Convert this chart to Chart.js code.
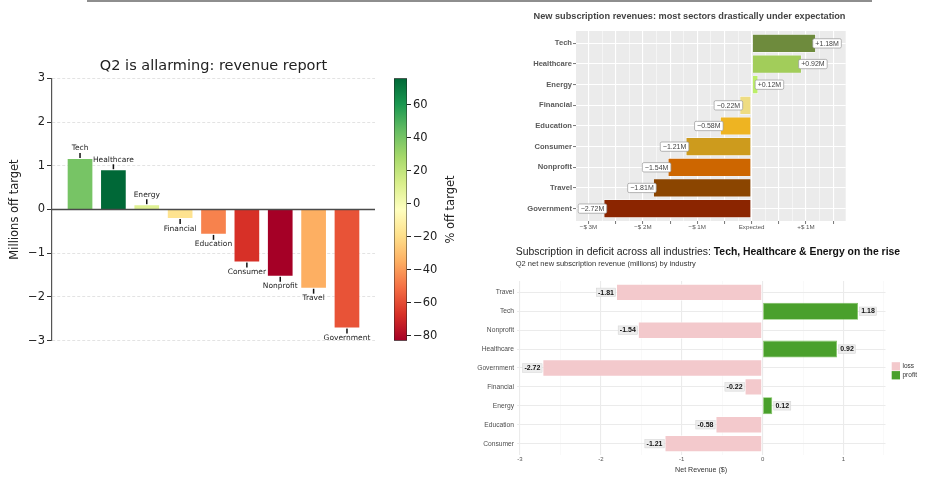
<!DOCTYPE html>
<html>
<head>
<meta charset="utf-8">
<script src="https://cdn.jsdelivr.net/npm/chart.js@4.4.1/dist/chart.umd.min.js"></script>
<style>
  html, body { margin: 0; padding: 0; background: #fff; width: 933px; height: 481px; overflow: hidden; }
  canvas { position: absolute; left: 0; top: 0; }
  #rule { position: absolute; left: 87px; top: 0; width: 785px; height: 2px; background: #8e8e8e; }
</style>
</head>
<body>
<div id="rule"></div>
<canvas id="bars" width="933" height="481"></canvas>
<canvas id="colorbar" width="933" height="481"></canvas>
<canvas id="expectation" width="933" height="481"></canvas>
<canvas id="net" width="933" height="481"></canvas>
<script>
// ---- data ----
const sectors = ['Tech', 'Healthcare', 'Energy', 'Financial', 'Education', 'Consumer', 'Nonprofit', 'Travel', 'Government'];
const revenueMillions = [1.18, 0.92, 0.12, -0.22, -0.58, -1.21, -1.54, -1.81, -2.72];
const pctOffTarget = [40, 76, 10, -18, -46, -67, -83, -35, -58];
const millionTicks = [-3, -2, -1, 0, 1, 2, 3];
const pctTicks = [-80, -60, -40, -20, 0, 20, 40, 60];
const sectorColors = ['#6E8B3D', '#A2CD5A', '#BCEE68', '#EEDC82', '#EEB422', '#CD9B1D', '#CD6600', '#8B4500', '#8B2500'];
const expectationTicks = [-3, -2, -1, 0, 1];
const expectationLabels = ['\u2212$ 3M', '\u2212$ 2M', '\u2212$ 1M', 'Expected', '+$ 1M'];
const netTicks = [-3, -2, -1, 0, 1];
const resultLabels = ['loss', 'profit'];
const resultColors = ['#F3C9CC', '#4AA02C'];

// ---- helpers ----
const W = 933, H = 481;
const SANS = '"Liberation Sans", Arial, sans-serif';
const DEJAVU = '"DejaVu Sans", sans-serif';
const minus = v => String(v).replace('-', '\u2212');

// layout padding that puts the plot area at a fixed spot, given fixed axis sizes
function padFor(area, leftW, bottomH, rightW = 0, topH = 0) {
  return { left: area.left - leftW, right: W - area.right - rightW, top: area.top - topH, bottom: H - area.bottom - bottomH };
}

const RDYLGN = ['#a50026', '#d73027', '#f46d43', '#fdae61', '#fee08b', '#ffffbf', '#d9ef8b', '#a6d96a', '#66bd63', '#1a9850', '#006837'];
const hexRgb = h => [1, 3, 5].map(i => parseInt(h.substr(i, 2), 16));
function rdylgn(t) {
  t = Math.max(0, Math.min(1, t));
  const p = t * 10, i = Math.min(9, Math.floor(p)), f = p - i;
  const a = hexRgb(RDYLGN[i]), b = hexRgb(RDYLGN[i + 1]);
  const c = a.map((v, k) => Math.round(v + (b[k] - v) * f));
  return `rgb(${c[0]},${c[1]},${c[2]})`;
}
const vmin = Math.min(...pctOffTarget), vmax = Math.max(...pctOffTarget);
const norm = v => (v - vmin) / (vmax - vmin);

const common = { responsive: false, animation: false, events: [] };
const noChrome = { legend: { display: false }, tooltip: { enabled: false }, title: { display: false } };

// ================= left: vertical bars coloured by % off target =================
const barsArea = { left: 52, right: 375, top: 78.3, bottom: 340.7 };
new Chart('bars', {
  type: 'bar',
  data: {
    datasets: [{
      data: sectors.map((s, i) => ({ x: i, y: revenueMillions[i] })),
      backgroundColor: pctOffTarget.map(p => rdylgn(norm(p))),
      borderColor: 'rgba(255,255,255,0.45)',
      borderWidth: 1,
      barPercentage: 0.8,
      categoryPercentage: 1
    }]
  },
  options: {
    ...common,
    layout: { padding: padFor(barsArea, 52, 0) },
    plugins: noChrome,
    scales: {
      x: { type: 'linear', min: -0.84, max: 8.84, offset: false, display: false },
      y: {
        type: 'linear', min: -3, max: 3,
        afterFit: s => { s.width = 52; },
        afterBuildTicks: s => { s.ticks = millionTicks.map(v => ({ value: v })); },
        ticks: { font: { family: DEJAVU, size: 11.5 }, color: '#222', padding: 2, callback: v => minus(v) },
        grid: { color: '#dcdcdc', lineWidth: 0.8, tickLength: 5, tickColor: '#333', tickWidth: 1 },
        border: { display: true, color: '#555', width: 1.2, dash: [3, 2] },
        title: { display: true, text: 'Millions off target', font: { family: DEJAVU, size: 11.5 }, color: '#222', padding: { top: 8 } }
      }
    }
  },
  plugins: [{
    id: 'barsDecor',
    beforeDatasetsDraw(chart) {
      const { ctx } = chart;
      const meta = chart.getDatasetMeta(0);
      ctx.save();
      ctx.font = `7.5px ${DEJAVU}`;
      ctx.fillStyle = '#222';
      ctx.strokeStyle = '#111';
      ctx.lineWidth = 1.5;
      ctx.textAlign = 'center';
      ctx.textBaseline = 'middle';
      meta.data.forEach((bar, i) => {
        const dir = revenueMillions[i] >= 0 ? -1 : 1;
        ctx.beginPath();
        ctx.moveTo(bar.x, bar.y);
        ctx.lineTo(bar.x, bar.y + dir * 5);
        ctx.stroke();
        ctx.fillText(sectors[i], bar.x, bar.y + dir * 9.5);
      });
      ctx.restore();
    },
    afterDatasetsDraw(chart) {
      const { ctx, chartArea: a, scales: { y } } = chart;
      const y0 = y.getPixelForValue(0);
      ctx.save();
      ctx.strokeStyle = '#4a4a4a';
      ctx.lineWidth = 1.4;
      ctx.beginPath();
      ctx.moveTo(a.left, y0);
      ctx.lineTo(a.right, y0);
      ctx.stroke();
      ctx.font = `14.5px ${DEJAVU}`;
      ctx.fillStyle = '#222';
      ctx.textAlign = 'center';
      ctx.textBaseline = 'middle';
      ctx.fillText('Q2 is allarming: revenue report', (a.left + a.right) / 2, 66.7);
      ctx.restore();
    }
  }]
});

// ================= colour bar for % off target =================
const cbArea = { left: 394, right: 407, top: 78.3, bottom: 340.7 };
new Chart('colorbar', {
  type: 'bar',
  data: {
    labels: ['% off target'],
    datasets: [{
      data: [[vmin, vmax]],
      backgroundColor: c => {
        const a = c.chart.chartArea;
        if (!a) return '#ffffbf';
        const g = c.chart.ctx.createLinearGradient(0, a.bottom, 0, a.top);
        RDYLGN.forEach((h, k) => g.addColorStop(k / 10, h));
        return g;
      },
      borderColor: '#222',
      borderWidth: 0.8,
      borderSkipped: false,
      barPercentage: 1,
      categoryPercentage: 1
    }]
  },
  options: {
    ...common,
    layout: { padding: padFor(cbArea, 0, 0, 60) },
    plugins: noChrome,
    scales: {
      x: { display: false },
      y: {
        position: 'right', min: vmin, max: vmax,
        afterFit: s => { s.width = 60; },
        afterBuildTicks: s => { s.ticks = pctTicks.map(v => ({ value: v })); },
        ticks: { font: { family: DEJAVU, size: 11.5 }, color: '#222', padding: 2, callback: v => minus(v) },
        grid: { drawOnChartArea: false, tickLength: 4, tickColor: '#222', tickWidth: 1 },
        border: { display: false }
      }
    }
  },
  plugins: [{
    id: 'cbLabel',
    afterDraw(chart) {
      const { ctx, chartArea: a } = chart;
      ctx.save();
      ctx.translate(451, (a.top + a.bottom) / 2);
      ctx.rotate(-Math.PI / 2);
      ctx.font = `11.5px ${DEJAVU}`;
      ctx.fillStyle = '#222';
      ctx.textAlign = 'center';
      ctx.textBaseline = 'middle';
      ctx.fillText('% off target', 0, 0);
      ctx.restore();
    }
  }]
});

// ================= top right: revenue vs expectation =================
const expArea = { left: 576, right: 845.7, top: 31, bottom: 221 };
const quarterSteps = Array.from({ length: 19 }, (_, k) => -3 + k * 0.25);
const isHalf = v => Math.abs(v * 2 - Math.round(v * 2)) < 1e-6;
new Chart('expectation', {
  type: 'bar',
  data: {
    datasets: [{
      data: sectors.map((s, i) => ({ x: revenueMillions[i], y: i })),
      backgroundColor: sectorColors,
      borderColor: 'rgba(255,255,255,0.8)',
      borderWidth: 0.7,
      borderSkipped: false,
      barPercentage: 0.9,
      categoryPercentage: 1
    }]
  },
  options: {
    ...common,
    indexAxis: 'y',
    layout: { padding: padFor(expArea, 60, 20) },
    plugins: noChrome,
    scales: {
      x: {
        type: 'linear', min: -3.23, max: 1.73,
        afterFit: s => { s.height = 20; },
        afterBuildTicks: s => { s.ticks = quarterSteps.map(v => ({ value: v })); },
        ticks: {
          autoSkip: false, maxRotation: 0, padding: 0,
          font: { family: SANS, size: 6.2 }, color: '#555',
          callback: v => { const k = expectationTicks.findIndex(t => Math.abs(t - v) < 1e-6); return k < 0 ? '' : expectationLabels[k]; }
        },
        grid: {
          color: '#ffffff',
          lineWidth: c => isHalf(c.tick.value) ? 1.1 : 0.5,
          tickLength: 3,
          tickColor: c => isHalf(c.tick.value) ? '#555' : 'rgba(0,0,0,0)',
          tickWidth: 0.8
        },
        border: { display: false }
      },
      y: {
        type: 'linear', reverse: true, min: -0.6, max: 8.6, offset: false,
        afterFit: s => { s.width = 60; },
        afterBuildTicks: s => { s.ticks = sectors.map((_, i) => ({ value: i })); },
        ticks: { autoSkip: false, padding: 1, font: { family: SANS, size: 7.6, weight: 'bold' }, color: '#5a5a5a', callback: v => sectors[v] },
        grid: { offset: false, color: '#ffffff', lineWidth: 1.1, tickLength: 3, tickColor: '#555', tickWidth: 0.8 },
        border: { display: false }
      }
    }
  },
  plugins: [{
    id: 'expDecor',
    beforeDraw(chart) {
      const { ctx, chartArea: a } = chart;
      ctx.save();
      ctx.fillStyle = '#EBEBEB';
      ctx.fillRect(a.left, a.top, a.right - a.left, a.bottom - a.top);
      ctx.font = `bold 9.2px ${SANS}`;
      ctx.fillStyle = '#444';
      ctx.textBaseline = 'middle';
      ctx.fillText('New subscription revenues: most sectors drastically under expectation', 533.5, 16.7);
      ctx.restore();
    },
    afterDatasetsDraw(chart) {
      const { ctx } = chart;
      const meta = chart.getDatasetMeta(0);
      ctx.save();
      ctx.font = `7px ${SANS}`;
      ctx.textBaseline = 'middle';
      ctx.textAlign = 'center';
      meta.data.forEach((bar, i) => {
        const v = revenueMillions[i];
        const txt = (v >= 0 ? '+' : '\u2212') + Math.abs(v).toFixed(2) + 'M';
        const w = ctx.measureText(txt).width + 5, h = 9.3;
        const left = v >= 0 ? bar.x - 3 : bar.x + 3 - w;
        ctx.beginPath();
        if (ctx.roundRect) ctx.roundRect(left, bar.y - h / 2, w, h, 1.5); else ctx.rect(left, bar.y - h / 2, w, h);
        ctx.fillStyle = '#ffffff';
        ctx.fill();
        ctx.strokeStyle = '#9a9a9a';
        ctx.lineWidth = 0.7;
        ctx.stroke();
        ctx.fillStyle = '#444';
        ctx.fillText(txt, left + w / 2, bar.y + 0.3);
      });
      ctx.restore();
    }
  }]
});

// ================= bottom right: net revenue, loss vs profit =================
const netArea = { left: 516.7, right: 885.5, top: 281, bottom: 455 };
// industries listed alphabetically from the bottom up
const netOrder = sectors.map((s, i) => i).sort((a, b) => sectors[b].localeCompare(sectors[a]));
const halfSteps = Array.from({ length: 10 }, (_, k) => -3 + k * 0.5);
const isWhole = v => Math.abs(v - Math.round(v)) < 1e-6;
new Chart('net', {
  type: 'bar',
  data: {
    datasets: [{
      data: netOrder.map((si, row) => ({ x: revenueMillions[si], y: row })),
      backgroundColor: netOrder.map(si => revenueMillions[si] < 0 ? resultColors[0] : resultColors[1]),
      borderColor: netOrder.map(si => revenueMillions[si] < 0 ? 'rgba(255,255,255,0.9)' : '#7CC15E'),
      borderWidth: 0.8,
      borderSkipped: false,
      barPercentage: 0.9,
      categoryPercentage: 1
    }]
  },
  options: {
    ...common,
    indexAxis: 'y',
    layout: { padding: padFor(netArea, 60, 22) },
    plugins: noChrome,
    scales: {
      x: {
        type: 'linear', min: -3.04, max: 1.52,
        afterFit: s => { s.height = 22; },
        afterBuildTicks: s => { s.ticks = halfSteps.map(v => ({ value: v })); },
        ticks: {
          autoSkip: false, maxRotation: 0, padding: 1,
          font: { family: SANS, size: 6 }, color: '#555',
          callback: v => netTicks.some(t => Math.abs(t - v) < 1e-6) ? String(Math.round(v)) : ''
        },
        grid: {
          color: c => isWhole(c.tick.value) ? '#EBEBEB' : '#F5F5F5',
          lineWidth: c => isWhole(c.tick.value) ? 1.1 : 0.6,
          drawTicks: false
        },
        border: { display: false },
        title: { display: true, text: 'Net Revenue ($)', font: { family: SANS, size: 7.1 }, color: '#333', padding: { top: 0, bottom: 2.7 } }
      },
      y: {
        type: 'linear', reverse: true, min: -0.6, max: 8.6, offset: false,
        afterFit: s => { s.width = 60; },
        afterBuildTicks: s => { s.ticks = netOrder.map((_, i) => ({ value: i })); },
        ticks: { autoSkip: false, padding: 2.7, font: { family: SANS, size: 6.7 }, color: '#4d4d4d', callback: v => sectors[netOrder[v]] },
        grid: { offset: false, color: '#EBEBEB', lineWidth: 1.1, drawTicks: false },
        border: { display: false }
      }
    }
  },
  plugins: [{
    id: 'netDecor',
    beforeDraw(chart) {
      const { ctx } = chart;
      ctx.save();
      ctx.textBaseline = 'middle';
      ctx.fillStyle = '#222';
      ctx.font = `10.4px ${SANS}`;
      const lead = 'Subscription in deficit across all industries: ';
      ctx.fillText(lead, 515.7, 251.7);
      const lw = ctx.measureText(lead).width;
      ctx.font = `bold 10.4px ${SANS}`;
      ctx.fillStyle = '#111';
      ctx.fillText('Tech, Healthcare & Energy on the rise', 515.7 + lw, 251.7);
      ctx.font = `7.5px ${SANS}`;
      ctx.fillStyle = '#333';
      ctx.fillText('Q2 net new subscription revenue (millions) by industry', 515.7, 264.3);
      // legend
      ctx.font = `6.5px ${SANS}`;
      resultLabels.forEach((lab, k) => {
        const top = 362.2 + k * 8.9;
        ctx.fillStyle = resultColors[k];
        ctx.fillRect(891.7, top, 8.3, 8.3);
        ctx.fillStyle = '#333';
        ctx.fillText(lab, 902.5, top + 4.2);
      });
      ctx.restore();
    },
    afterDatasetsDraw(chart) {
      const { ctx } = chart;
      const meta = chart.getDatasetMeta(0);
      ctx.save();
      ctx.font = `bold 7px ${SANS}`;
      ctx.textBaseline = 'middle';
      ctx.textAlign = 'center';
      meta.data.forEach((bar, row) => {
        const v = revenueMillions[netOrder[row]];
        const txt = v.toFixed(2);
        const w = ctx.measureText(txt).width + 3.4, h = 8.5;
        const left = v >= 0 ? bar.x + 1.5 : bar.x - 0.5 - w;
        ctx.fillStyle = '#EDEDED';
        ctx.fillRect(left, bar.y - h / 2, w, h);
        ctx.strokeStyle = '#d2d2d2';
        ctx.lineWidth = 0.5;
        ctx.strokeRect(left, bar.y - h / 2, w, h);
        ctx.fillStyle = '#111';
        ctx.fillText(txt, left + w / 2, bar.y + 0.3);
      });
      ctx.restore();
    }
  }]
});
</script>
</body>
</html>
